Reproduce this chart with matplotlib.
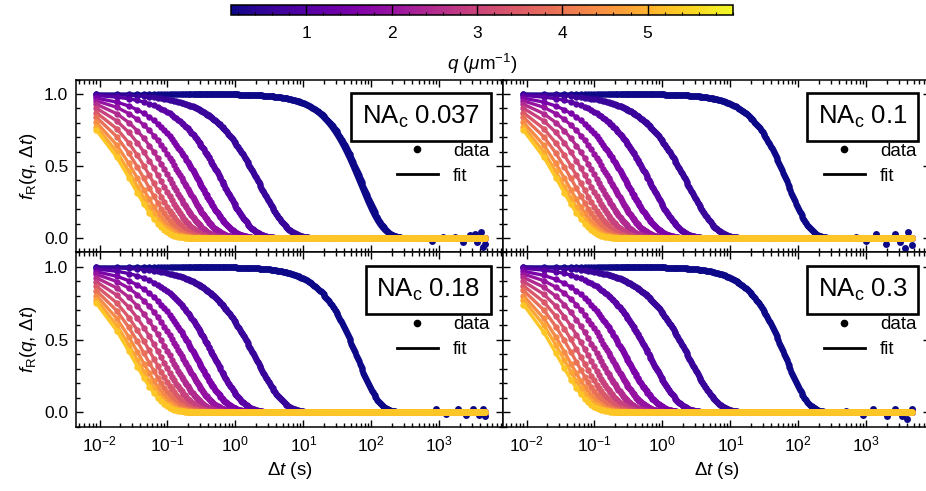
import numpy as np
import matplotlib
matplotlib.use('Agg')
import matplotlib.pyplot as plt
from matplotlib.lines import Line2D
from matplotlib.ticker import MultipleLocator, FixedLocator, LogLocator, NullFormatter, FormatStrFormatter
from matplotlib.colors import Normalize
from matplotlib.cm import ScalarMappable

plt.rcParams['font.family'] = ['Liberation Sans', 'DejaVu Sans']
plt.rcParams['mathtext.fontset'] = 'custom'
plt.rcParams['mathtext.rm'] = 'Liberation Sans'
plt.rcParams['mathtext.it'] = 'Liberation Sans:italic'
plt.rcParams['mathtext.bf'] = 'Liberation Sans:bold'

# ---------------- data ----------------
na_labels = ['0.037', '0.1', '0.18', '0.3']
q_values = [0.12, 0.59, 1.06, 1.53, 2.00, 2.47, 2.94, 3.41, 3.88, 4.35, 4.82, 5.29]
q_range = [0.12, 6.0]
frame_time = 0.009       # s, first lag time
max_lag = 4700.0         # s, last lag time

# relaxation times tau (s) per q for each NA_c panel
tau_na037 = [68, 2.3, 0.68, 0.31, 0.185, 0.122, 0.087, 0.065, 0.051, 0.041, 0.035, 0.031]
tau_na01 = [71, 2.4, 0.69, 0.31, 0.185, 0.122, 0.087, 0.065, 0.051, 0.041, 0.035, 0.031]
tau_na018 = [63, 2.0, 0.50, 0.27, 0.170, 0.115, 0.083, 0.063, 0.050, 0.041, 0.035, 0.031]
tau_na03 = [66, 2.5, 0.68, 0.30, 0.180, 0.120, 0.086, 0.065, 0.051, 0.041, 0.035, 0.030]
# stretching exponent per q
beta_values = [1.35, 1.05, 1.05, 1.0, 1.0, 1.0, 1.0, 1.0, 1.0, 1.0, 1.0, 1.0]
# measured tau of the slowest data set in the NA 0.037 panel (visibly off the fit)
tau_data_slowest_na037 = 75

# noisy plateau of the slowest mode: log10(lag) and value
tail_logt_na037 = [2.90, 3.05, 3.23, 3.35, 3.45, 3.52, 3.56, 3.62, 3.65, 3.67]
tail_val_na037 = [-0.02, 0.01, 0.01, -0.03, 0.02, 0.03, -0.03, 0.04, -0.06, -0.04]
tail_logt_na01 = [2.85, 2.99, 3.15, 3.29, 3.43, 3.50, 3.57, 3.62, 3.67]
tail_val_na01 = [0.01, -0.02, 0.03, -0.04, 0.03, -0.03, -0.07, 0.04, -0.05]
tail_logt_na018 = [2.95, 3.10, 3.28, 3.40, 3.50, 3.58, 3.64, 3.67]
tail_val_na018 = [0.02, -0.01, 0.02, -0.02, 0.02, -0.02, 0.02, -0.03]
tail_logt_na03 = [2.70, 2.95, 3.10, 3.30, 3.42, 3.52, 3.60, 3.67]
tail_val_na03 = [0.01, -0.02, 0.02, -0.03, 0.02, -0.03, -0.05, 0.02]

x_tick_values = [1e-2, 1e-1, 1e0, 1e1, 1e2, 1e3]
cbar_ticks = [1, 2, 3, 4, 5]

taus = [tau_na037, tau_na01, tau_na018, tau_na03]
tails = [(tail_logt_na037, tail_val_na037), (tail_logt_na01, tail_val_na01),
         (tail_logt_na018, tail_val_na018), (tail_logt_na03, tail_val_na03)]

# lag times: integer multiples of the frame time, log-spaced
frames = np.unique(np.round(np.logspace(0, np.log10(max_lag / frame_time), 420)).astype(int))
lag = frames * frame_time

# ---------------- figure ----------------
W, H = 926, 491
fig = plt.figure(figsize=(W / 100, H / 100), dpi=100)


def rect(x0, y0, x1, y1):
    return [x0 / W, 1 - y1 / H, (x1 - x0) / W, (y1 - y0) / H]


ax_rects = [rect(76, 79.6, 503, 252.4), rect(503, 79.6, 930, 252.4),
            rect(76, 252.4, 503, 426.6), rect(503, 252.4, 930, 426.6)]
axes = [fig.add_axes(r) for r in ax_rects]
cax = fig.add_axes(rect(231, 5, 733, 15))

cmap = plt.get_cmap('plasma')
norm = Normalize(vmin=q_range[0], vmax=q_range[1])

for i, ax in enumerate(axes):
    tau_list = taus[i]
    for k, (q, tau, beta) in enumerate(zip(q_values, tau_list, beta_values)):
        c = cmap(norm(q))
        fit = np.exp(-(lag / tau) ** beta)
        tau_d = tau_data_slowest_na037 if (i == 0 and k == 0) else tau
        data = np.exp(-(lag / tau_d) ** beta)
        ax.plot(lag, data, 'o', ms=4.6, mew=0, color=c, zorder=2 + k)
        if k == 0:
            lt, lv = tails[i]
            ax.plot(10 ** np.array(lt), lv, 'o', ms=5.0, mew=0, color=c, zorder=2)
        ax.plot(lag, fit, '-', lw=2.4, color=c, zorder=2 + k)

    ax.set_xscale('log')
    ax.set_xlim(frame_time / 2, max_lag * 1.85)
    ax.set_ylim(-0.1, 1.1)
    ax.yaxis.set_major_locator(MultipleLocator(0.5))
    ax.yaxis.set_minor_locator(MultipleLocator(0.1))
    ax.yaxis.set_major_formatter(FormatStrFormatter('%.1f'))
    ax.xaxis.set_major_locator(FixedLocator(x_tick_values))
    ax.xaxis.set_minor_locator(LogLocator(base=10, subs=np.arange(2, 10), numticks=20))
    ax.xaxis.set_minor_formatter(NullFormatter())
    ax.tick_params(which='both', direction='in', top=True, right=True, width=1.0,
                   labelsize=12.5)
    ax.tick_params(which='major', length=5)
    ax.tick_params(which='minor', length=2.6)
    ax.tick_params(axis='y', pad=5.5)
    ax.tick_params(axis='x', pad=5.5)
    for s in ax.spines.values():
        s.set_linewidth(1.1)

    if i in (1, 3):
        ax.tick_params(labelleft=False)
    else:
        ax.set_ylabel(r'$f_\mathrm{R}(q,\,\Delta t)$', fontsize=13.5, labelpad=4)
    if i in (0, 1):
        ax.tick_params(labelbottom=False)
    else:
        ax.set_xlabel(r'$\Delta t$ (s)', fontsize=13.5, labelpad=4)

    ax.text(0.947, 0.858, r'NA$_\mathrm{c}$ ' + na_labels[i], transform=ax.transAxes,
            ha='right', va='top', fontsize=18.5, zorder=30,
            bbox=dict(boxstyle='square,pad=0.42', fc='white', ec='black', lw=1.9))

    handles = [Line2D([], [], marker='o', ls='none', color='black', ms=4.5),
               Line2D([], [], ls='-', lw=2.0, color='black')]
    leg = ax.legend(handles, ['data', 'fit'], loc='upper right', frameon=False,
                    bbox_to_anchor=(0.968, 0.635), borderpad=0, borderaxespad=0,
                    fontsize=13.5, handlelength=2.2, handletextpad=0.8,
                    labelspacing=0.42)
    leg.set_zorder(30)

sm = ScalarMappable(norm=norm, cmap=cmap)
cb = fig.colorbar(sm, cax=cax, orientation='horizontal')
cb.set_ticks(cbar_ticks)
cb.ax.xaxis.set_minor_locator(MultipleLocator(0.2))
cb.ax.tick_params(which='major', direction='in', length=7.2, width=1.0, labelsize=12.5, pad=8)
cb.ax.tick_params(which='minor', direction='in', length=2.2, width=0.8)
cb.outline.set_linewidth(1.1)
cb.set_label(r'$q$ ($\mu$m$^{-1}$)', fontsize=13.5, labelpad=8)

fig.savefig('out.png', dpi=100)
